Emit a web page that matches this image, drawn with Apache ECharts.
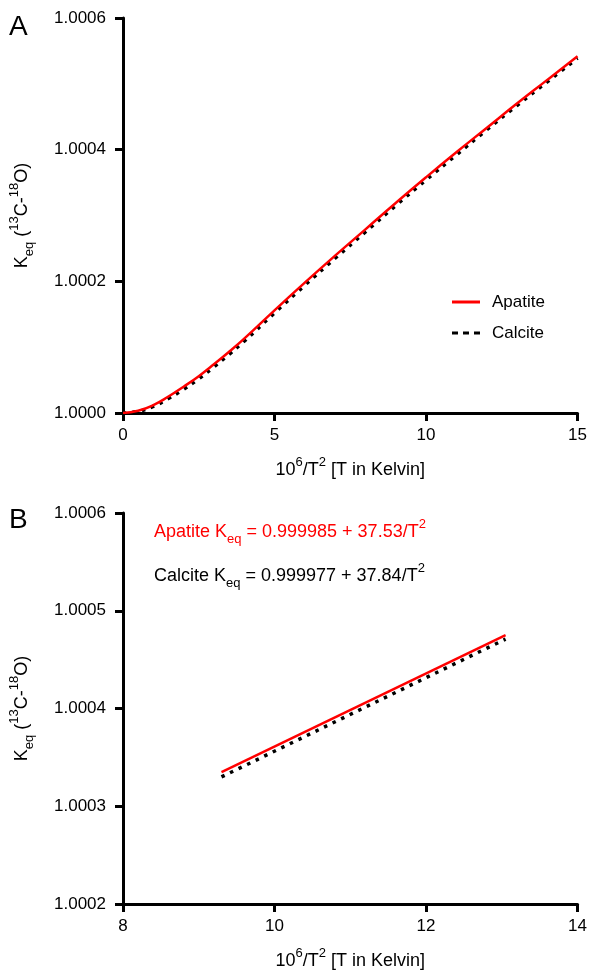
<!DOCTYPE html>
<html>
<head>
<meta charset="utf-8">
<script src="https://cdn.jsdelivr.net/npm/echarts@6/dist/echarts.min.js"></script>
<style>
  html, body { margin: 0; padding: 0; background: #fff; }
  #chart { width: 590px; height: 971px; }
</style>
</head>
<body>
<div id="chart"></div>
<script>
// Panel A: full curves
const xA = [0, 0.5, 1, 1.5, 2, 2.5, 3, 3.5, 4, 5, 6, 7, 8, 9, 10, 11, 12, 13, 14, 15];
const apatiteA = [1.0, 1.0000035, 1.000012, 1.000025, 1.000040, 1.000056, 1.000074, 1.000093, 1.000113,
                  1.000156, 1.000198, 1.000239, 1.000279, 1.000319, 1.000358, 1.000396, 1.000433, 1.000470, 1.000506, 1.000542];
const calciteA = [1.0, 1.0000025, 1.000010, 1.000022, 1.000036, 1.000052, 1.000070, 1.000089, 1.000109,
                  1.000152, 1.000194, 1.000235, 1.000275, 1.000315, 1.000354, 1.000392, 1.000430, 1.000467, 1.000503, 1.000539];

// Panel B: zoomed linear fits
const xB = [9.3, 13.05];
const apatiteB = [1.000335, 1.000475];
const calciteB = [1.000330, 1.000471];

const xTicksA = [0, 15, 5];      // min, max, interval
const yTicksA = [1.0, 1.0006, 0.0002];
const xTicksB = [8, 14, 2];
const yTicksB = [1.0002, 1.0006, 0.0001];

const font = 'Liberation Sans, Arial, sans-serif';
const red = '#ff0000';

function pairs(xs, ys) {
    return xs.map((x, i) => [x, ys[i]]);
}

// rich text styles (color for axis names, fill for graphic text)
function richFor(c) {
    return {
        t: { fontSize: 18, fontFamily: font, color: c, fill: c, lineHeight: 28, verticalAlign: 'middle' },
        sup: { fontSize: 13, fontFamily: font, color: c, fill: c, lineHeight: 28, verticalAlign: 'top' },
        sub: { fontSize: 13, fontFamily: font, color: c, fill: c, lineHeight: 28, verticalAlign: 'bottom' }
    };
}

const yName = '{t|K}{sub|eq}{t| (}{sup|13}{t|C-}{sup|18}{t|O)}';
const xName = '{t|10}{sup|6}{t|/T}{sup|2}{t| [T in Kelvin]}';

function xAxisCfg(gi, t) {
    return {
        type: 'value', gridIndex: gi, min: t[0], max: t[1], interval: t[2],
        name: xName, nameLocation: 'middle', nameGap: 43,
        nameTextStyle: { rich: richFor('#000') },
        splitLine: { show: false },
        axisLine: { lineStyle: { color: '#000', width: 3 } },
        axisTick: { length: 8, lineStyle: { color: '#000', width: 3 } },
        axisLabel: { color: '#000', fontSize: 17, fontFamily: font, margin: 14 }
    };
}

function yAxisCfg(gi, t) {
    return {
        type: 'value', gridIndex: gi, min: t[0], max: t[1], interval: t[2],
        name: yName, nameLocation: 'middle', nameGap: 87, nameRotate: 90,
        nameTextStyle: { rich: richFor('#000') },
        splitLine: { show: false },
        axisLine: { show: true, lineStyle: { color: '#000', width: 3 } },
        axisTick: { show: true, length: 8, lineStyle: { color: '#000', width: 3 } },
        axisLabel: { color: '#000', fontSize: 17, fontFamily: font, margin: 17,
                     formatter: v => v.toFixed(4) }
    };
}

const calciteStyle = { color: '#000', width: 3.5, type: [3.5, 6] };
const apatiteStyle = { color: red, width: 2.5 };

const chart = echarts.init(document.getElementById('chart'));
let option = {
    backgroundColor: '#fff',
    animation: false,
    grid: [
        { left: 120, right: 12, top: 18, bottom: 558 },
        { left: 120, right: 12, top: 513, bottom: 64 }
    ],
    xAxis: [xAxisCfg(0, xTicksA), xAxisCfg(1, xTicksB)],
    yAxis: [yAxisCfg(0, yTicksA), yAxisCfg(1, yTicksB)],
    legend: {
        data: [
            { name: 'Apatite', icon: 'path://M0,0h28v3h-28z', itemStyle: { color: red } },
            { name: 'Calcite', icon: 'path://M0,0h6v3h-6z M11,0h6v3h-6z M22,0h6v3h-6z', itemStyle: { color: '#000' } }
        ],
        orient: 'vertical', left: 447, top: 287, itemGap: 11,
        itemWidth: 28, itemHeight: 3,
        textStyle: { fontSize: 17, fontFamily: font, color: '#000', padding: [0, 0, 0, 7], lineHeight: 20 }
    },
    graphic: [
        { type: 'text', left: 9, top: 13, style: { text: 'A', fontSize: 28, fontFamily: font, fill: '#000' } },
        { type: 'text', left: 9, top: 506, style: { text: 'B', fontSize: 28, fontFamily: font, fill: '#000' } },
        { type: 'text', left: 154, top: 518, style: {
            text: '{t|Apatite K}{sub|eq}{t| = 0.999985 + 37.53/T}{sup|2}',
            rich: richFor(red) } },
        { type: 'text', left: 154, top: 562, style: {
            text: '{t|Calcite K}{sub|eq}{t| = 0.999977 + 37.84/T}{sup|2}',
            rich: richFor('#000') } }
    ],
    series: [
        { name: 'Calcite', type: 'line', xAxisIndex: 0, yAxisIndex: 0, data: pairs(xA, calciteA),
          smooth: true, symbol: 'none', lineStyle: calciteStyle, itemStyle: { color: '#000' } },
        { name: 'Apatite', type: 'line', xAxisIndex: 0, yAxisIndex: 0, data: pairs(xA, apatiteA),
          smooth: true, symbol: 'none', lineStyle: apatiteStyle, itemStyle: { color: red } },
        { name: 'Calcite', type: 'line', xAxisIndex: 1, yAxisIndex: 1, data: pairs(xB, calciteB),
          symbol: 'none', lineStyle: calciteStyle, itemStyle: { color: '#000' } },
        { name: 'Apatite', type: 'line', xAxisIndex: 1, yAxisIndex: 1, data: pairs(xB, apatiteB),
          symbol: 'none', lineStyle: apatiteStyle, itemStyle: { color: red } }
    ]
};
chart.setOption(option);
</script>
</body>
</html>
